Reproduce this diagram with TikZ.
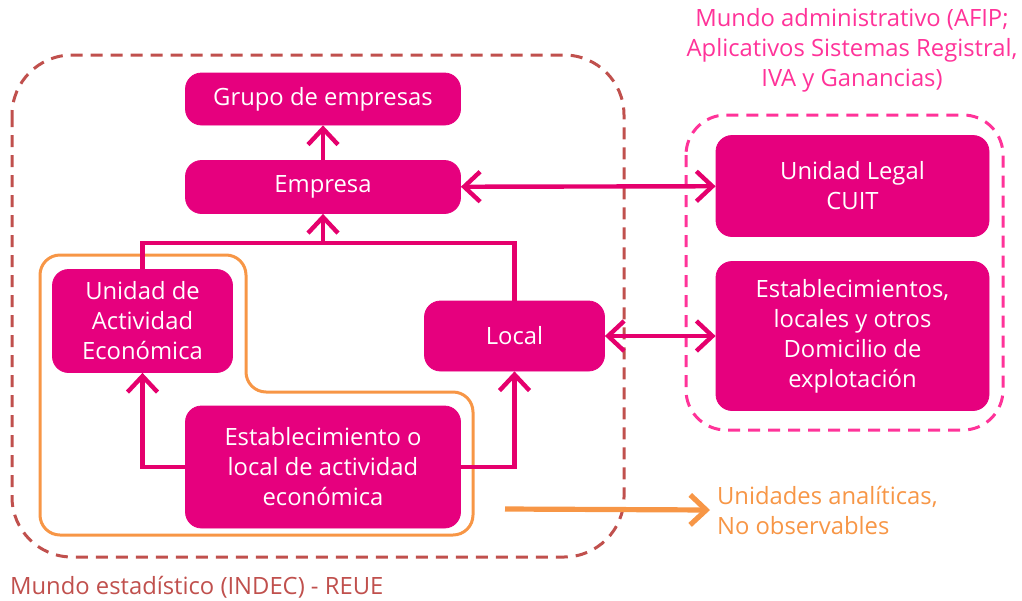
\documentclass[tikz,border=0pt]{standalone}
\usepackage{fontspec}
\setmainfont{Open Sans}
\usetikzlibrary{shapes,arrows,arrows.meta,positioning}
\definecolor{unitfill}{HTML}{E6007E}
\definecolor{linkcol}{HTML}{E5006D}
\definecolor{estcol}{HTML}{C0504D}
\definecolor{admcol}{HTML}{FF3399}
\definecolor{obscol}{HTML}{F79646}
\begin{document}
\begin{tikzpicture}[x=0.5pt,y=-0.5pt]
\tikzset{every node/.style={font=\fontsize{11.9}{15}\selectfont}}
\tikzset{unit/.style={draw=unitfill,fill=unitfill,text=white,rounded corners=8pt,align=center,inner sep=0pt}}
\tikzset{world/.style={dashed,dash pattern=on 6pt off 4pt,line width=1.5pt}}
\tikzset{link/.style={draw=linkcol,line width=2.2pt,-{Straight Barb[length=8pt,width=15pt]}}}
\tikzset{dlink/.style={link,{Straight Barb[length=8pt,width=15pt]}-{Straight Barb[length=8pt,width=15pt]}}}
\useasboundingbox (0,0) rectangle (1022,600);
% mundos
\draw[world,draw=estcol,rounded corners=30pt] (12,55) rectangle (624,557);
\draw[world,draw=admcol,rounded corners=20pt] (686,115) rectangle (1003,430);
\draw[obscol,line width=1.5pt,rounded corners=10pt] (40,255) -- (246,255) -- (246,392) -- (473,392) -- (473,535) -- (40,535) -- cycle;
% unidades
\node[unit,minimum width=137.5pt,minimum height=26pt] (grupo) at (323,99) {Grupo de empresas};
\node[unit,minimum width=137.5pt,minimum height=26.5pt] (empresa) at (323,187) {Empresa};
\node[unit,minimum width=90pt,minimum height=51.5pt] (uae) at (142.5,321) {Unidad de\\Actividad\\Económica};
\node[unit,minimum width=90pt,minimum height=35pt] (local) at (514.5,336) {Local};
\node[unit,minimum width=137.5pt,minimum height=61pt] (estab) at (323,467) {Establecimiento o\\local de actividad\\económica};
\node[unit,minimum width=136.5pt,minimum height=50.5pt] (legal) at (852.5,186) {Unidad Legal\\CUIT};
\node[unit,minimum width=136.5pt,minimum height=74.5pt] (domic) at (852.5,336) {Establecimientos,\\locales y otros\\Domicilio de\\explotación};
% textos
\node[text=admcol,align=center] (admlabel) at (852,50) {Mundo administrativo (AFIP;\\Aplicativos Sistemas Registral,\\IVA y Ganancias)};
\node[text=estcol,anchor=west] (estlabel) at (3,587) {Mundo estadístico (INDEC) - REUE};
\node[text=obscol,align=left,anchor=west] (obslabel) at (710,510) {Unidades analíticas,\\No observables};
% conectores
\coordinate (join) at (323,243);
\draw[link] (empresa) -- (grupo);
\draw[draw=linkcol,line width=2.2pt] (uae.north) |- (join) -| (local.north);
\draw[link] (join) -- (empresa);
\draw[link] (estab.west) -| (uae.south);
\draw[link] (estab.east) -| (local.south);
\draw[dlink] (empresa) -- (legal);
\draw[dlink] (local) -- (domic);
\coordinate (obsfrom) at (505,509);
\draw[draw=obscol,line width=2.6pt,-{Straight Barb[length=8pt,width=15pt]}] (obsfrom) -- (obslabel.west);
\end{tikzpicture}
\end{document}
